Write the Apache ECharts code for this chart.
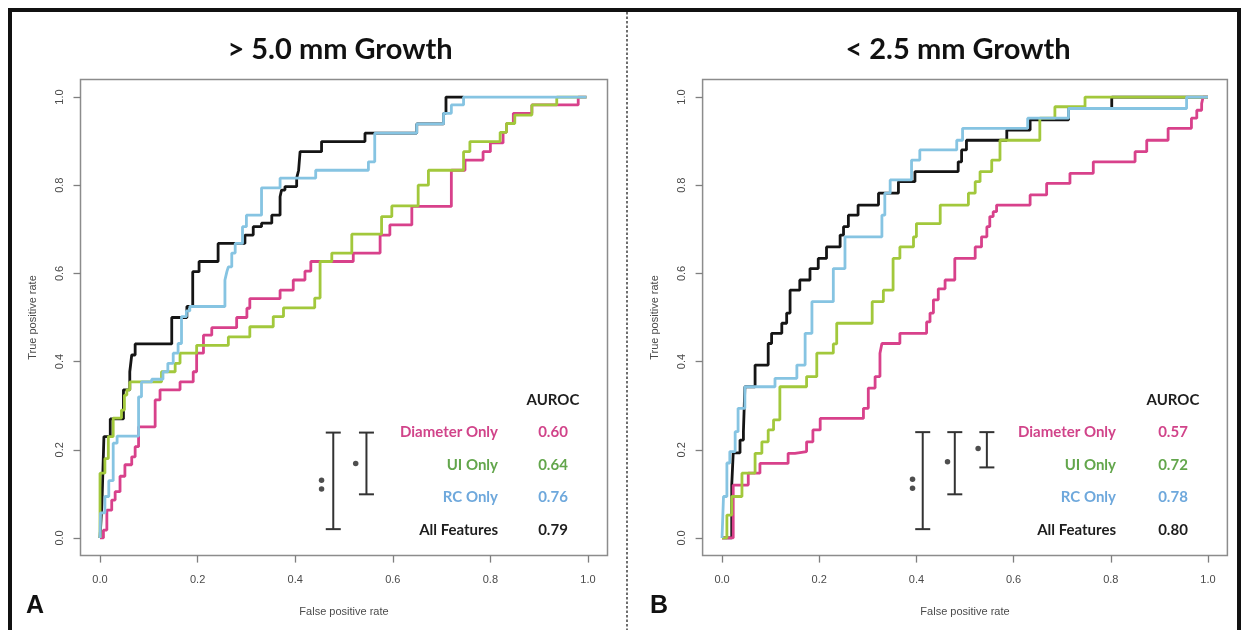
<!DOCTYPE html>
<html>
<head>
<meta charset="utf-8">
<script src="https://cdn.jsdelivr.net/npm/echarts@6/dist/echarts.min.js"></script>
<style>
html,body{margin:0;padding:0;background:#fff;}
#chart{width:1244px;height:630px;}
</style>
</head>
<body>
<div id="chart"></div>
<script>
// ---------- DATA ----------
const ticks = [0, 0.2, 0.4, 0.6, 0.8, 1.0];
const panelTitles = ['> 5.0 mm Growth', '< 2.5 mm Growth'];
const panelLetters = ['A', 'B'];
const featureNames = ['Diameter Only', 'UI Only', 'RC Only', 'All Features'];
const aurocLeft = ['0.60', '0.64', '0.76', '0.79'];
const aurocRight = ['0.57', '0.72', '0.78', '0.80'];

// Left panel (> 5.0 mm Growth): [false positive rate, true positive rate]
const leftDiameter = [[0,0],[0.007,0],[0.007,0.018],[0.014,0.018],[0.014,0.063],[0.024,0.063],[0.024,0.086],[0.031,0.086],[0.031,0.105],[0.041,0.105],[0.041,0.14],[0.051,0.14],[0.051,0.166],[0.065,0.166],[0.065,0.184],[0.072,0.184],[0.072,0.207],[0.079,0.207],[0.079,0.252],[0.113,0.252],[0.113,0.313],[0.123,0.313],[0.123,0.336],[0.164,0.336],[0.164,0.354],[0.191,0.354],[0.191,0.377],[0.198,0.377],[0.198,0.419],[0.212,0.419],[0.212,0.46],[0.229,0.46],[0.229,0.477],[0.28,0.477],[0.28,0.5],[0.301,0.5],[0.301,0.521],[0.307,0.521],[0.307,0.543],[0.369,0.543],[0.369,0.562],[0.396,0.562],[0.396,0.585],[0.42,0.585],[0.42,0.605],[0.432,0.605],[0.432,0.627],[0.519,0.627],[0.519,0.646],[0.574,0.646],[0.574,0.687],[0.594,0.687],[0.594,0.71],[0.639,0.71],[0.639,0.752],[0.72,0.752],[0.72,0.834],[0.748,0.834],[0.748,0.857],[0.785,0.857],[0.785,0.876],[0.8,0.876],[0.8,0.896],[0.826,0.896],[0.826,0.92],[0.833,0.92],[0.833,0.94],[0.847,0.94],[0.847,0.963],[0.885,0.963],[0.885,0.982],[0.98,0.982],[0.98,1.0],[0.997,1.0]];
const leftUI = [[0,0],[0,0.147],[0.01,0.147],[0.01,0.18],[0.017,0.18],[0.017,0.23],[0.027,0.23],[0.027,0.272],[0.044,0.272],[0.044,0.29],[0.05,0.29],[0.05,0.324],[0.055,0.324],[0.055,0.336],[0.061,0.336],[0.061,0.354],[0.126,0.354],[0.126,0.377],[0.154,0.377],[0.154,0.396],[0.164,0.396],[0.164,0.419],[0.198,0.419],[0.198,0.437],[0.263,0.437],[0.263,0.456],[0.307,0.456],[0.307,0.479],[0.355,0.479],[0.355,0.502],[0.376,0.502],[0.376,0.522],[0.44,0.522],[0.44,0.544],[0.451,0.544],[0.451,0.627],[0.475,0.627],[0.475,0.646],[0.516,0.646],[0.516,0.689],[0.577,0.689],[0.577,0.729],[0.598,0.729],[0.598,0.753],[0.652,0.753],[0.652,0.8],[0.673,0.8],[0.673,0.834],[0.745,0.834],[0.745,0.876],[0.758,0.876],[0.758,0.899],[0.82,0.899],[0.82,0.92],[0.833,0.92],[0.833,0.94],[0.85,0.94],[0.85,0.959],[0.885,0.959],[0.885,0.982],[0.936,0.982],[0.936,1.0],[0.997,1.0]];
const leftRC = [[0,0],[0.001,0],[0.001,0.057],[0.01,0.057],[0.01,0.094],[0.018,0.094],[0.018,0.13],[0.027,0.13],[0.027,0.215],[0.035,0.215],[0.035,0.231],[0.079,0.231],[0.079,0.32],[0.085,0.32],[0.085,0.354],[0.106,0.354],[0.106,0.36],[0.129,0.36],[0.129,0.377],[0.139,0.377],[0.139,0.396],[0.15,0.396],[0.15,0.419],[0.16,0.419],[0.16,0.441],[0.167,0.441],[0.167,0.502],[0.177,0.502],[0.177,0.515],[0.184,0.515],[0.184,0.525],[0.256,0.525],[0.256,0.585],[0.26,0.585],[0.26,0.604],[0.263,0.604],[0.263,0.615],[0.27,0.615],[0.27,0.646],[0.277,0.646],[0.277,0.668],[0.292,0.668],[0.292,0.706],[0.3,0.706],[0.3,0.732],[0.331,0.732],[0.331,0.794],[0.369,0.794],[0.369,0.816],[0.442,0.816],[0.442,0.834],[0.55,0.834],[0.55,0.853],[0.563,0.853],[0.563,0.918],[0.649,0.918],[0.649,0.939],[0.704,0.939],[0.704,0.963],[0.72,0.963],[0.72,0.982],[0.745,0.982],[0.745,1.0],[0.997,1.0]];
const leftAll = [[0,0],[0.004,0],[0.004,0.08],[0.008,0.08],[0.008,0.23],[0.021,0.23],[0.021,0.27],[0.048,0.27],[0.048,0.336],[0.061,0.336],[0.061,0.377],[0.065,0.377],[0.065,0.415],[0.072,0.415],[0.072,0.44],[0.147,0.44],[0.147,0.5],[0.178,0.5],[0.178,0.525],[0.19,0.525],[0.19,0.604],[0.203,0.604],[0.203,0.627],[0.242,0.627],[0.242,0.668],[0.297,0.668],[0.297,0.687],[0.314,0.687],[0.314,0.706],[0.331,0.706],[0.331,0.714],[0.352,0.714],[0.352,0.732],[0.369,0.732],[0.369,0.774],[0.372,0.774],[0.372,0.789],[0.379,0.789],[0.379,0.797],[0.403,0.797],[0.403,0.816],[0.407,0.816],[0.407,0.834],[0.41,0.834],[0.41,0.876],[0.454,0.876],[0.454,0.899],[0.543,0.899],[0.543,0.918],[0.649,0.918],[0.649,0.939],[0.704,0.939],[0.704,0.963],[0.709,0.963],[0.709,1.0],[0.745,1.0]];

// Right panel (< 2.5 mm Growth)
const rightDiameter = [[0,0],[0.023,0],[0.023,0.12],[0.054,0.12],[0.054,0.147],[0.078,0.147],[0.078,0.169],[0.136,0.169],[0.136,0.192],[0.15,0.192],[0.15,0.196],[0.174,0.196],[0.174,0.218],[0.187,0.218],[0.187,0.245],[0.202,0.245],[0.202,0.271],[0.291,0.271],[0.291,0.294],[0.301,0.294],[0.301,0.34],[0.315,0.34],[0.315,0.366],[0.325,0.366],[0.325,0.419],[0.329,0.419],[0.329,0.441],[0.366,0.441],[0.366,0.464],[0.421,0.464],[0.421,0.49],[0.428,0.49],[0.428,0.51],[0.435,0.51],[0.435,0.54],[0.445,0.54],[0.445,0.565],[0.459,0.565],[0.459,0.585],[0.479,0.585],[0.479,0.634],[0.521,0.634],[0.521,0.66],[0.534,0.66],[0.534,0.683],[0.545,0.683],[0.545,0.706],[0.551,0.706],[0.551,0.729],[0.558,0.729],[0.558,0.74],[0.565,0.74],[0.565,0.755],[0.634,0.755],[0.634,0.778],[0.668,0.778],[0.668,0.804],[0.716,0.804],[0.716,0.827],[0.764,0.827],[0.764,0.853],[0.85,0.853],[0.85,0.876],[0.874,0.876],[0.874,0.902],[0.918,0.902],[0.918,0.929],[0.966,0.929],[0.966,0.952],[0.977,0.952],[0.977,0.97],[0.987,0.97],[0.987,0.985],[0.99,0.985],[0.99,1.0],[1.0,1.0]];
const rightUI = [[0,0],[0.01,0],[0.01,0.052],[0.02,0.052],[0.02,0.094],[0.041,0.094],[0.041,0.147],[0.068,0.147],[0.068,0.192],[0.082,0.192],[0.082,0.218],[0.095,0.218],[0.095,0.245],[0.106,0.245],[0.106,0.268],[0.119,0.268],[0.119,0.343],[0.174,0.343],[0.174,0.366],[0.195,0.366],[0.195,0.419],[0.229,0.419],[0.229,0.44],[0.236,0.44],[0.236,0.487],[0.309,0.487],[0.309,0.536],[0.332,0.536],[0.332,0.562],[0.352,0.562],[0.352,0.634],[0.366,0.634],[0.366,0.66],[0.394,0.66],[0.394,0.683],[0.4,0.683],[0.4,0.713],[0.449,0.713],[0.449,0.755],[0.507,0.755],[0.507,0.782],[0.521,0.782],[0.521,0.808],[0.531,0.808],[0.531,0.831],[0.555,0.831],[0.555,0.857],[0.572,0.857],[0.572,0.902],[0.654,0.902],[0.654,0.952],[0.685,0.952],[0.685,0.978],[0.747,0.978],[0.747,1.0],[1.0,1.0]];
const rightRC = [[0,0],[0.003,0],[0.003,0.094],[0.01,0.094],[0.01,0.17],[0.016,0.17],[0.016,0.196],[0.027,0.196],[0.027,0.241],[0.033,0.241],[0.033,0.294],[0.047,0.294],[0.047,0.343],[0.109,0.343],[0.109,0.362],[0.154,0.362],[0.154,0.392],[0.171,0.392],[0.171,0.464],[0.185,0.464],[0.185,0.536],[0.229,0.536],[0.229,0.611],[0.253,0.611],[0.253,0.683],[0.329,0.683],[0.329,0.732],[0.335,0.732],[0.335,0.782],[0.346,0.782],[0.346,0.812],[0.39,0.812],[0.39,0.857],[0.407,0.857],[0.407,0.88],[0.483,0.88],[0.483,0.902],[0.495,0.902],[0.495,0.929],[0.629,0.929],[0.629,0.952],[0.713,0.952],[0.713,0.974],[0.956,0.974],[0.956,1.0],[1.0,1.0]];
const rightAll = [[0,0],[0.02,0],[0.02,0.12],[0.023,0.12],[0.023,0.193],[0.037,0.193],[0.037,0.222],[0.044,0.222],[0.044,0.241],[0.047,0.241],[0.047,0.343],[0.068,0.343],[0.068,0.392],[0.095,0.392],[0.095,0.441],[0.102,0.441],[0.102,0.464],[0.123,0.464],[0.123,0.487],[0.133,0.487],[0.133,0.51],[0.14,0.51],[0.14,0.562],[0.16,0.562],[0.16,0.585],[0.181,0.585],[0.181,0.611],[0.198,0.611],[0.198,0.634],[0.215,0.634],[0.215,0.66],[0.243,0.66],[0.243,0.687],[0.25,0.687],[0.25,0.706],[0.26,0.706],[0.26,0.732],[0.28,0.732],[0.28,0.755],[0.322,0.755],[0.322,0.782],[0.363,0.782],[0.363,0.808],[0.397,0.808],[0.397,0.831],[0.486,0.831],[0.486,0.853],[0.493,0.853],[0.493,0.88],[0.503,0.88],[0.503,0.902],[0.586,0.902],[0.586,0.925],[0.634,0.925],[0.634,0.948],[0.713,0.948],[0.713,0.974],[0.802,0.974],[0.802,1.0],[1.0,1.0]];

// significance brackets: [x, yBottom, yTop]; stars: [x, y]
const bracketsLeft = [[0.478,0.02,0.239],[0.546,0.099,0.239]];
const starsLeft = [[0.454,0.131],[0.454,0.111],[0.524,0.169]];
const bracketsRight = [[0.413,0.02,0.24],[0.479,0.099,0.24],[0.545,0.16,0.24]];
const starsRight = [[0.392,0.133],[0.392,0.113],[0.464,0.173],[0.527,0.203]];

// ---------- STYLE ----------
const lineColors = ['#d8418b', '#a2c83c', '#86c4e2', '#151515'];
const textColors = ['#d1448a', '#63a64c', '#6ea8dc', '#1e1e1e'];
const axisGray = '#7f7f7f';
const labelGray = '#4a4a4a';

const chart = echarts.init(document.getElementById('chart'), null, {renderer: 'canvas'});

function xAxisCfg(gi) {
  return {
    gridIndex: gi, type: 'value', min: -0.04, max: 1.04, position: 'bottom',
    axisLine: {show: false, onZero: false},
    axisTick: {show: true, inside: false, length: 7, customValues: ticks, lineStyle: {color: axisGray, width: 1.3}},
    axisLabel: {customValues: ticks, formatter: v => v.toFixed(1), margin: 19, color: labelGray, fontSize: 11, fontFamily: 'Liberation Sans'},
    splitLine: {show: false},
    name: 'False positive rate', nameLocation: 'middle', nameGap: 51,
    nameTextStyle: {color: labelGray, fontSize: 11, fontFamily: 'Liberation Sans'}
  };
}
function yAxisCfg(gi) {
  return {
    gridIndex: gi, type: 'value', min: -0.04, max: 1.04, position: 'left',
    axisLine: {show: false, onZero: false},
    axisTick: {show: true, inside: false, length: 7, customValues: ticks, lineStyle: {color: axisGray, width: 1.3}},
    axisLabel: {customValues: ticks, formatter: v => v.toFixed(1), rotate: 90, margin: 15, color: labelGray, fontSize: 11, fontFamily: 'Liberation Sans'},
    splitLine: {show: false},
    name: 'True positive rate', nameLocation: 'middle', nameGap: 42,
    nameTextStyle: {color: labelGray, fontSize: 11, fontFamily: 'Liberation Sans'}
  };
}

function curve(data, idx, gi) {
  return {
    type: 'line', data: data, xAxisIndex: gi, yAxisIndex: gi,
    showSymbol: false, symbol: 'none', smooth: false, clip: false,
    lineStyle: {color: lineColors[idx], width: 2.8},
    z: 2 + (idx === 3 ? 0 : idx + 1), animation: false, silent: true
  };
}
function bracketSeries(data, gi) {
  return {
    type: 'custom', xAxisIndex: gi, yAxisIndex: gi, data: data,
    encode: {x: 0, y: [1, 2]}, animation: false, silent: true, z: 10,
    renderItem: function (params, api) {
      const x = api.value(0), y0 = api.value(1), y1 = api.value(2);
      const pb = api.coord([x, y0]), pt = api.coord([x, y1]);
      const w = 7.5;
      const st = {stroke: '#333', lineWidth: 2};
      return {type: 'group', children: [
        {type: 'line', shape: {x1: pb[0], y1: pb[1], x2: pt[0], y2: pt[1]}, style: st},
        {type: 'line', shape: {x1: pb[0]-w, y1: pb[1], x2: pb[0]+w, y2: pb[1]}, style: st},
        {type: 'line', shape: {x1: pt[0]-w, y1: pt[1], x2: pt[0]+w, y2: pt[1]}, style: st}
      ]};
    }
  };
}
function starSeries(data, gi) {
  return {
    type: 'scatter', xAxisIndex: gi, yAxisIndex: gi, data: data,
    symbol: 'circle', symbolSize: 5.5, itemStyle: {color: '#222'},
    animation: false, silent: true, z: 10
  };
}

// annotation text (legend table) — positions in pixels
const legendLayouts = [
  {labelRight: 498, valueCenter: 553, ys: [432, 465, 497, 530], headY: 400, values: aurocLeft},
  {labelRight: 1116, valueCenter: 1173, ys: [432, 465, 497, 530], headY: 400, values: aurocRight}
];
const graphics = [];
graphics.push({type: 'rect', shape: {x: 10, y: 10, width: 1229, height: 630}, style: {fill: 'none', stroke: '#111', lineWidth: 4}, z: 100, silent: true});
graphics.push({type: 'line', shape: {x1: 627, y1: 12, x2: 627, y2: 630}, style: {stroke: '#222', lineWidth: 1.3, lineDash: [2.5, 2]}, z: 100, silent: true});
[340, 958].forEach((cx, i) => {
  graphics.push({type: 'text', style: {text: panelTitles[i], x: cx, y: 50, align: 'center', verticalAlign: 'middle', font: 'bold 29px Lato', fill: '#111'}, silent: true});
});
[35, 659].forEach((cx, i) => {
  graphics.push({type: 'text', style: {text: panelLetters[i], x: cx, y: 606, align: 'center', verticalAlign: 'middle', font: 'bold 25px "Liberation Sans"', fill: '#111'}, silent: true});
});
legendLayouts.forEach(L => {
  graphics.push({type: 'text', style: {text: 'AUROC', x: L.valueCenter, y: L.headY, align: 'center', verticalAlign: 'middle', font: 'bold 15px Lato', fill: '#1e1e1e'}, silent: true});
  featureNames.forEach((nm, k) => {
    graphics.push({type: 'text', style: {text: nm, x: L.labelRight, y: L.ys[k], align: 'right', verticalAlign: 'middle', font: 'bold 15px Lato', fill: textColors[k]}, silent: true});
    graphics.push({type: 'text', style: {text: L.values[k], x: L.valueCenter, y: L.ys[k], align: 'center', verticalAlign: 'middle', font: 'bold 15px Lato', fill: textColors[k]}, silent: true});
  });
});

const option = {
  backgroundColor: '#ffffff',
  animation: false,
  grid: [
    {left: 80.5, top: 79.4, width: 527, height: 476.2, show: true, borderColor: '#8c8c8c', borderWidth: 1.5, backgroundColor: 'transparent', containLabel: false},
    {left: 702.6, top: 79.4, width: 524.8, height: 476.2, show: true, borderColor: '#8c8c8c', borderWidth: 1.5, backgroundColor: 'transparent', containLabel: false}
  ],
  xAxis: [xAxisCfg(0), xAxisCfg(1)],
  yAxis: [yAxisCfg(0), yAxisCfg(1)],
  series: [
    curve(leftAll, 3, 0), curve(leftDiameter, 0, 0), curve(leftUI, 1, 0), curve(leftRC, 2, 0),
    curve(rightAll, 3, 1), curve(rightDiameter, 0, 1), curve(rightUI, 1, 1), curve(rightRC, 2, 1),
    bracketSeries(bracketsLeft, 0), starSeries(starsLeft, 0),
    bracketSeries(bracketsRight, 1), starSeries(starsRight, 1)
  ],
  graphic: graphics
};
chart.setOption(option);
</script>
</body>
</html>
